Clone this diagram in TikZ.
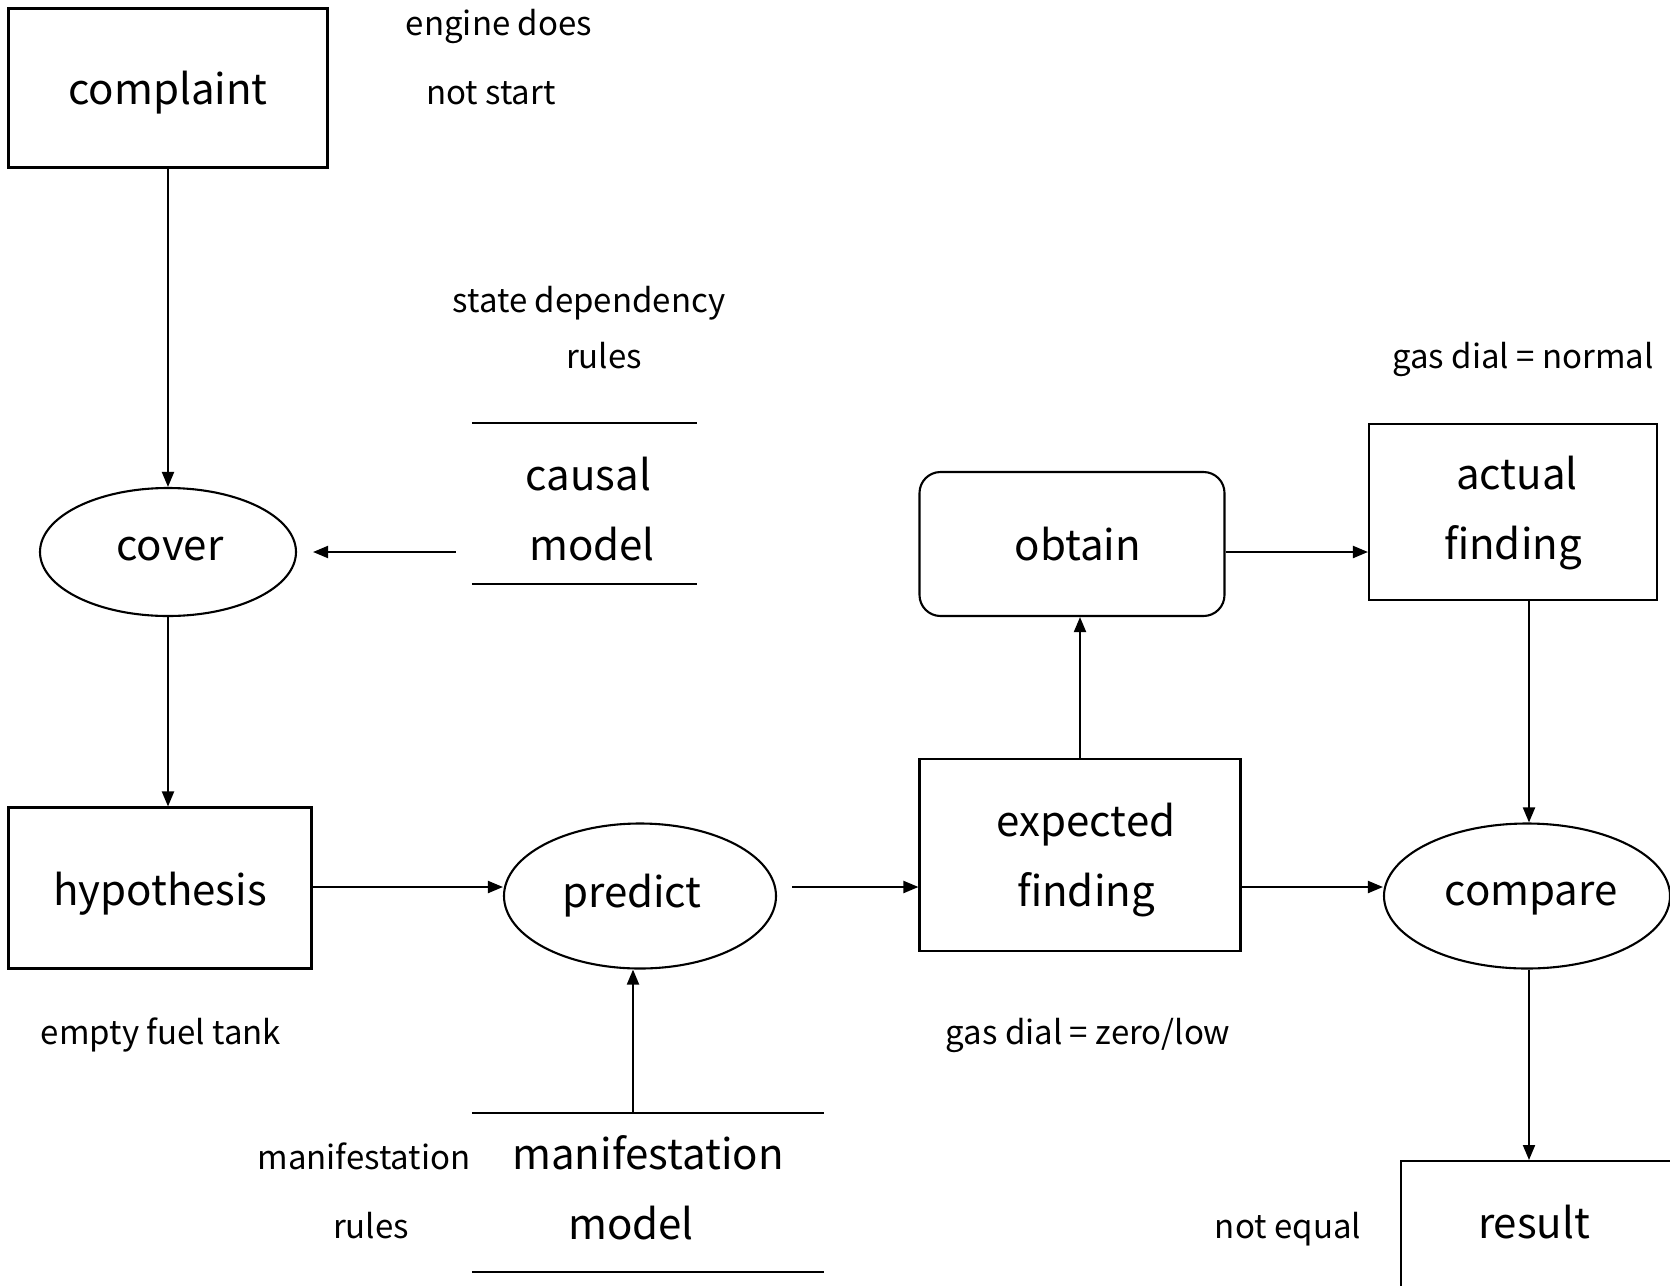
\documentclass[tikz,border=0pt]{standalone}
\usepackage{fontspec}
\setmainfont{Noto Sans CJK JP}
\usetikzlibrary{shapes.geometric,arrows.meta,calc}
% move a text by (#1 right, #2 up) inside its node, keeping the node size
\newcommand\nudge[3]{\raisebox{#2}[\height][\depth]{\hspace*{#1}#3\hspace*{-#1}}}
\newcommand\twolines[2]{\begin{tabular}{@{}c@{}}#1\\#2\end{tabular}}
\begin{document}
\begin{tikzpicture}[x=1pt,y=-1pt,
  every node/.style={inner sep=0pt},
  big/.style={font=\fontsize{42}{70}\selectfont},
  small/.style={font=\fontsize{33}{55}\selectfont},
  box/.style={draw, line width=2.1pt, big, align=center},
  oval/.style={draw, ellipse, line width=2.1pt, big},
  arr/.style={line width=2pt, -{Triangle[length=15pt,width=12pt]}},
  rulel/.style={line width=2.1pt},
]
\useasboundingbox (0,0) rectangle (1670,1285);
\clip (0,0) rectangle (1670,1285);

% guide rows and columns for the connectors
\coordinate (rowA) at (0,552);
\coordinate (rowB) at (0,887);
\coordinate (colM) at (633,0);
\coordinate (colR) at (1529,0);

% main boxes
\node[box, minimum width=319pt, minimum height=159pt] (complaint) at (168,88) {\nudge{0pt}{-5pt}{complaint}};
\node[oval, minimum width=256pt, minimum height=128pt] (cover) at (168,552) {\nudge{2pt}{3pt}{cover}};
\node[box, minimum width=303pt, minimum height=161pt] (hyp) at (160,888) {\nudge{0pt}{-6pt}{hypothesis}};
\node[oval, minimum width=272pt, minimum height=145pt] (predict) at (640,896) {\nudge{-8pt}{0pt}{predict}};
\node[box, minimum width=321pt, minimum height=192pt] (expected) at (1080,855) {\nudge{6pt}{-2pt}{\twolines{expected}{finding}}};
\node[box, rounded corners=21pt, minimum width=305pt, minimum height=144pt] (obtain) at (1072,544) {\nudge{6pt}{0pt}{obtain}};
\node[box, minimum width=288pt, minimum height=176pt] (actual) at (1513,512) {\nudge{0pt}{2pt}{\twolines{\hspace*{8pt}actual}{finding}}};
\node[oval, minimum width=286pt, minimum height=145pt] (compare) at (1527,896) {\nudge{4pt}{-3pt}{compare}};
\node[box, anchor=north west, minimum width=330pt, minimum height=170pt] (result) at (1400,1160) {};
\node[big] (resulttxt) at (1534,1222) {result};

% knowledge stores: text between two horizontal rules
\node[big, minimum width=225pt, minimum height=161pt] (causal) at (584.5,503.5) {\nudge{0pt}{-8pt}{\twolines{\hspace*{8pt}causal}{\hspace*{15pt}model}}};
\draw[rulel] (causal.north west) -- (causal.north east);
\draw[rulel] (causal.south west) -- (causal.south east);
\node[big, minimum width=352pt, minimum height=159pt] (manif) at (648,1192.5) {\nudge{0pt}{2pt}{\twolines{manifestation}{\hspace*{-34pt}model}}};
\draw[rulel] (manif.north west) -- (manif.north east);
\draw[rulel] (manif.south west) -- (manif.south east);

% annotations
\node[small] (eng1) at (499,26) {engine does};
\node[small] (eng2) at (491,93) {not start};
\node[small] (sdr1) at (589,303) {state dependency};
\node[small] (sdr2) at (604,356) {rules};
\node[small] (gasn) at (1523,359) {gas dial = normal};
\node[small] (eft) at (161,1035) {empty fuel tank};
\node[small] (gasz) at (1088,1035) {gas dial = zero/low};
\node[small] (mr1) at (364,1156) {manifestation};
\node[small] (mr2) at (371,1226) {rules};
\node[small] (neq) at (1288,1229) {not equal};

% connectors
\draw[arr] (complaint.south) -- (cover.north);
\draw[arr, shorten <=16pt, shorten >=16pt] (causal.west |- rowA) -- (cover.east |- rowA);
\draw[arr] (cover.south) -- (cover.south |- hyp.north);
\draw[arr] (hyp.east |- rowB) -- (predict.west |- rowB);
\draw[arr, shorten <=15pt] (predict.east |- rowB) -- (expected.west |- rowB);
\draw[arr] (expected.north) -- (expected.north |- obtain.south);
\draw[arr] (obtain.east |- rowA) -- (actual.west |- rowA);
\draw[arr] (actual.south -| colR) -- (compare.north -| colR);
\draw[arr] (expected.east |- rowB) -- (compare.west |- rowB);
\draw[arr] (compare.south -| colR) -- (result.north -| colR);
\draw[arr] (manif.north -| colM) -- (predict.south -| colM);
\end{tikzpicture}
\end{document}
